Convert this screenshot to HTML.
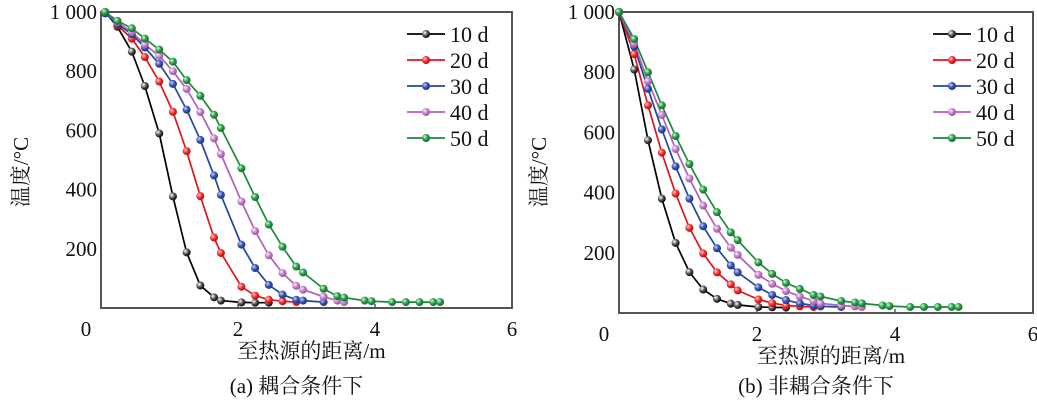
<!DOCTYPE html>
<html><head><meta charset="utf-8"><style>
body{margin:0;background:#fff;width:1037px;height:402px;overflow:hidden}
svg{display:block}
text{font-family:"Liberation Serif","Noto Serif CJK SC",serif;fill:#111}
</style></head><body>
<svg id="svg" width="1037" height="402">
<defs>
<radialGradient id="gk" cx="0.35" cy="0.35" r="0.7"><stop offset="0" stop-color="#fff"/><stop offset="0.5" stop-color="#555"/><stop offset="1" stop-color="#000"/></radialGradient>
<radialGradient id="gr" cx="0.35" cy="0.35" r="0.7"><stop offset="0" stop-color="#fcc"/><stop offset="0.5" stop-color="#e33"/><stop offset="1" stop-color="#b00"/></radialGradient>
<radialGradient id="gb" cx="0.35" cy="0.35" r="0.7"><stop offset="0" stop-color="#ccf"/><stop offset="0.5" stop-color="#3556b0"/><stop offset="1" stop-color="#1a2e80"/></radialGradient>
<radialGradient id="gp" cx="0.35" cy="0.35" r="0.7"><stop offset="0" stop-color="#fef"/><stop offset="0.5" stop-color="#c080c8"/><stop offset="1" stop-color="#9a4aa0"/></radialGradient>
<radialGradient id="gg" cx="0.35" cy="0.35" r="0.7"><stop offset="0" stop-color="#cfc"/><stop offset="0.5" stop-color="#2a9a4a"/><stop offset="1" stop-color="#146a2a"/></radialGradient>
</defs>
</svg>
<script>
const labels=["10 d","20 d","30 d","40 d","50 d"];
const colors=["#000","#e0141e","#1f46a0","#b060b8","#1a8a3a"];
const grads=["gk","gr","gb","gp","gg"];
const xTicks=[0,2,4,6];
const yTicks=[200,400,600,800,1000];
const yTickLabels=["200","400","600","800","1 000"];
const xLeft=[0.06,0.24,0.45,0.64,0.85,1.05,1.25,1.45,1.65,1.75,2.05,2.25,2.45,2.65,2.85,2.95,3.25,3.45,3.55,3.85,3.95,4.25,4.45,4.65,4.85,4.95];
const xRight=[0.0,0.22,0.42,0.62,0.82,1.02,1.22,1.42,1.62,1.72,2.02,2.22,2.42,2.62,2.82,2.92,3.22,3.42,3.52,3.82,3.92,4.22,4.42,4.62,4.82,4.92];
const left10=[1000,950,866,750,590,377,188,76,36,25,19,18,18];
const left20=[1000,955,910,848,765,663,530,378,238,186,72,42,28,23,20];
const left30=[995,960,925,880,825,757,670,568,448,382,214,135,78,45,28,25,20];
const left40=[1000,965,932,890,852,800,740,662,573,520,360,260,178,118,75,62,38,25,20];
const left50=[1000,970,945,910,873,832,770,717,653,608,472,375,282,207,140,120,65,40,35,25,23,20,20,20,20,20];
const right10=[1000,809,574,380,233,136,78,47,31,27,20,19,18];
const right20=[1000,860,690,533,397,283,198,135,95,75,45,33,25,22,20];
const right30=[1000,885,745,610,487,380,288,215,158,135,85,60,43,32,25,22,20];
const right40=[1000,895,770,658,545,447,357,280,217,193,127,97,73,55,40,32,25,22,20];
const right50=[1000,910,800,690,588,495,410,335,268,242,168,130,100,80,60,55,40,35,32,25,23,20,20,20,20,20];

const svg=document.getElementById('svg');
const NS='http://www.w3.org/2000/svg';
function mk(tag,attrs,parent){const e=document.createElementNS(NS,tag);for(const k in attrs)e.setAttribute(k,attrs[k]);(parent||svg).appendChild(e);return e;}

function chart(cfg){
  const g=mk('g',{});
  
  
  const sx=v=>cfg.x0+(cfg.x1-cfg.x0)*v/6;
  const sy=v=>cfg.y0-(cfg.y0-cfg.y1)*v/1000;
  const frame=mk('rect',{x:cfg.x0,y:cfg.y1,width:cfg.x1-cfg.x0,height:cfg.y0-cfg.y1,fill:'none',stroke:'#555','stroke-width':2},g);
  
  
  xTicks.forEach(t=>{
    if(t>0&&t<6){const tk=mk('line',{x1:sx(t),x2:sx(t),y1:cfg.y0,y2:cfg.y0-4,stroke:'#555','stroke-width':1.5},g);
    }
    const tx=mk('text',{x:t===0?sx(t)-15:sx(t),y:cfg.y0+28,'text-anchor':'middle','font-size':21},g);
    tx.textContent=String(t);
    
    
  });
  yTicks.forEach((t,i)=>{
    const tx=mk('text',{x:cfg.x0-4,y:sy(t)+7,'text-anchor':'end','font-size':21},g);
    tx.textContent=yTickLabels[i];
    
    
  });
  cfg.series.forEach((ys,si)=>{
    const pts=ys.map((v,i)=>sx(cfg.xs[i]).toFixed(1)+','+sy(v).toFixed(1)).join(' ');
    const pl=mk('polyline',{points:pts,fill:'none',stroke:colors[si],'stroke-width':1.7},g);
    
    
  });
  cfg.series.forEach((ys,si)=>{
    ys.forEach((v,i)=>{
      const c=mk('circle',{cx:sx(cfg.xs[i]),cy:sy(v),r:4,fill:'url(#'+grads[si]+')'},g);
      
      
    });
  });
  labels.forEach((l,i)=>{
    const ly=cfg.legY+i*26;
    const ln=mk('line',{x1:cfg.legX,x2:cfg.legX+38,y1:ly,y2:ly,stroke:colors[i],'stroke-width':1.7},g);
    
    
    const c=mk('circle',{cx:cfg.legX+19,cy:ly,r:4,fill:'url(#'+grads[i]+')'},g);
    
    
    const tx=mk('text',{x:cfg.legX+43,y:ly+8,'font-size':22},g);
    tx.textContent=l;
    
    
  });
  const yt=mk('text',{x:0,y:0,'font-size':21,'text-anchor':'middle',transform:'translate('+(cfg.x0-73)+',172) rotate(-90)'},g);
  yt.textContent='温度/°C';
  
  
  const xt=mk('text',{x:(cfg.x0+cfg.x1)/2+5,y:cfg.y0+50,'font-size':21,'text-anchor':'middle'},g);
  xt.textContent='至热源的距离/m';
  
  
  const cp=mk('text',{x:(cfg.x0+cfg.x1)/2-10,y:393,'font-size':21,'text-anchor':'middle'},g);
  cp.textContent=cfg.caption;
  
  
}
chart({name:'chart-coupled',x0:101,x1:512,y0:308,y1:12,xs:xLeft,series:[left10,left20,left30,left40,left50],legX:407,legY:34,caption:'(a)  耦合条件下'});
chart({name:'chart-uncoupled',x0:619,x1:1033,y0:313,y1:12,xs:xRight,series:[right10,right20,right30,right40,right50],legX:933,legY:34,caption:'(b)  非耦合条件下'});
</script>
</body></html>
